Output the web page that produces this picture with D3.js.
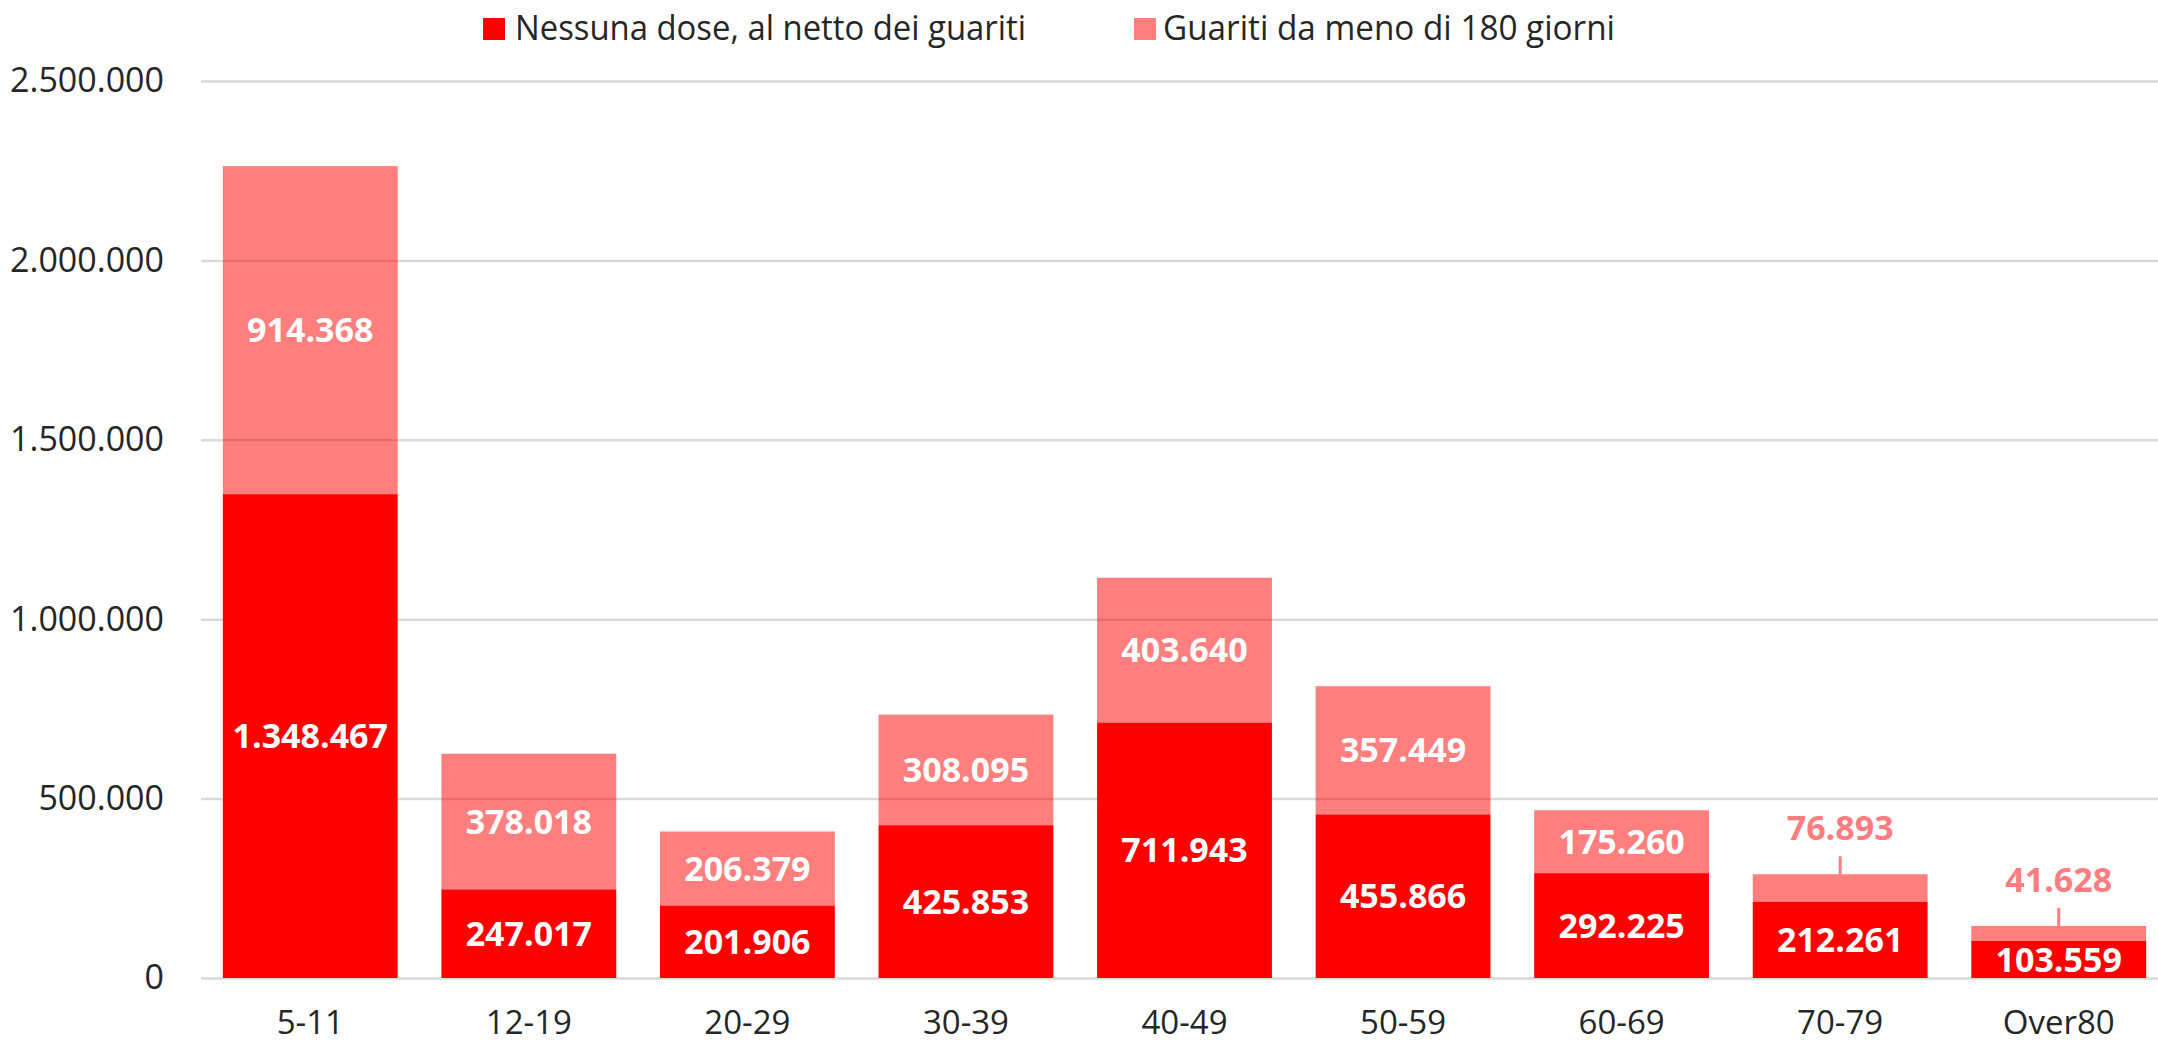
<!DOCTYPE html>
<html>
<head>
<meta charset="utf-8">
<script src="https://cdn.jsdelivr.net/npm/d3@7"></script>
<style>
  html, body { margin: 0; padding: 0; background: #fff; }
  svg text { font-family: "Open Sans", "Noto Sans", sans-serif; }
</style>
</head>
<body>
<svg id="chart" width="2158" height="1043"></svg>
<script>
// data
var categories = ["5-11", "12-19", "20-29", "30-39", "40-49", "50-59", "60-69", "70-79", "Over80"];
var nessunaDose = [1348467, 247017, 201906, 425853, 711943, 455866, 292225, 212261, 103559];
var guariti = [914368, 378018, 206379, 308095, 403640, 357449, 175260, 76893, 41628];
var seriesNames = ["Nessuna dose, al netto dei guariti", "Guariti da meno di 180 giorni"];
var yTicks = [0, 500000, 1000000, 1500000, 2000000, 2500000];
// labels of the small top segments sit above the bar with a leader
var outsideLabels = ["70-79", "Over80"];

(function() {

	var it = d3.formatLocale({ decimal: ",", thousands: ".", grouping: [3], currency: ["", "€"] });
	var fmt = it.format(",d");

	var svg = d3.select("#chart");
	var plotLeft = 201, plotRight = 2168, plotTop = 81, plotBottom = 978;

	var x = d3.scaleBand().domain(categories).range([plotLeft, plotRight])
		.paddingInner(0.2).paddingOuter(0.1);
	var y = d3.scaleLinear().domain([0, 2500000]).range([plotBottom, plotTop]);

	// gridlines + y labels
	var yAxis = svg.append("g")
		.attr("transform", "translate(" + plotLeft + ",0)")
		.call(d3.axisLeft(y).tickValues(yTicks).tickFormat(fmt)
			.tickSize(-(2158 - plotLeft)).tickPadding(37));
	yAxis.select(".domain").remove();
	yAxis.selectAll(".tick line").attr("stroke", "#d9d9d9").attr("stroke-width", 2.5);
	yAxis.selectAll(".tick text")
		.attr("fill", "#262626")
		.style("font-size", "34px");

	// x labels
	var xAxis = svg.append("g")
		.attr("transform", "translate(0," + plotBottom + ")")
		.call(d3.axisBottom(x).tickSize(0).tickPadding(0));
	xAxis.select(".domain").remove();
	xAxis.selectAll(".tick text")
		.attr("fill", "#262626")
		.attr("dy", null)
		.attr("y", 56)
		.style("font-size", "33px");

	var rows = categories.map(function(c, i) {
		return { cat: c, a: nessunaDose[i], b: guariti[i] };
	});

	var bars = svg.append("g");
	bars.selectAll(".bar-a").data(rows).enter()
		.append("rect")
			.attr("class", "bar-a")
			.attr("x", function(d) { return x(d.cat); })
			.attr("width", x.bandwidth())
			.attr("y", function(d) { return y(d.a); })
			.attr("height", function(d) { return y(0) - y(d.a); })
			.attr("fill", "#ff0000");

	// light series is red at half opacity, gridlines show through it
	bars.selectAll(".bar-b").data(rows).enter()
		.append("rect")
			.attr("class", "bar-b")
			.attr("x", function(d) { return x(d.cat); })
			.attr("width", x.bandwidth())
			.attr("y", function(d) { return y(d.a + d.b); })
			.attr("height", function(d) { return y(d.a) - y(d.a + d.b); })
			.attr("fill", "#ff0000")
			.attr("fill-opacity", 0.5);

	var fs = 34;
	var labels = svg.append("g")
		.attr("text-anchor", "middle")
		.style("font-size", fs + "px")
		.style("font-weight", "bold");

	labels.selectAll(".lab-a").data(rows).enter()
		.append("text")
			.attr("x", function(d) { return x(d.cat) + x.bandwidth() / 2; })
			.attr("y", function(d) { return (y(0) + y(d.a)) / 2 + 0.357 * fs; })
			.attr("fill", "#fff")
			.text(function(d) { return fmt(d.a); });

	function isOutside(d) { return outsideLabels.indexOf(d.cat) >= 0; }

	labels.selectAll(".lab-b").data(rows).enter()
		.append("text")
			.attr("x", function(d) { return x(d.cat) + x.bandwidth() / 2; })
			.attr("y", function(d) {
				if (isOutside(d)) return y(d.a + d.b) - 46 + 0.357 * fs;
				return (y(d.a) + y(d.a + d.b)) / 2 + 0.357 * fs;
			})
			.attr("fill", function(d) { return isOutside(d) ? "#ff7c80" : "#fff"; })
			.text(function(d) { return fmt(d.b); });

	svg.append("g").selectAll("line")
		.data(rows.filter(isOutside)).enter()
		.append("line")
			.attr("x1", function(d) { return x(d.cat) + x.bandwidth() / 2; })
			.attr("x2", function(d) { return x(d.cat) + x.bandwidth() / 2; })
			.attr("y1", function(d) { return y(d.a + d.b) - 18; })
			.attr("y2", function(d) { return y(d.a + d.b); })
			.attr("stroke", "#ff7c80")
			.attr("stroke-width", 3);

	// legend
	var legendItems = [
		{ name: seriesNames[0], op: 1, mx: 483, tx: 515, tw: 511 },
		{ name: seriesNames[1], op: 0.5, mx: 1134, tx: 1163, tw: 452 }
	];
	var legend = svg.append("g");
	legend.selectAll("rect").data(legendItems).enter()
		.append("rect")
			.attr("x", function(d) { return d.mx; })
			.attr("y", 18)
			.attr("width", 22)
			.attr("height", 22)
			.attr("fill", "#ff0000")
			.attr("fill-opacity", function(d) { return d.op; });
	legend.selectAll("text").data(legendItems).enter()
		.append("text")
			.attr("x", function(d) { return d.tx; })
			.attr("y", 40)
			.attr("fill", "#262626")
			.attr("textLength", function(d) { return d.tw; })
			.attr("lengthAdjust", "spacingAndGlyphs")
			.style("font-size", "34px")
			.text(function(d) { return d.name; });

})();
</script>
</body>
</html>
